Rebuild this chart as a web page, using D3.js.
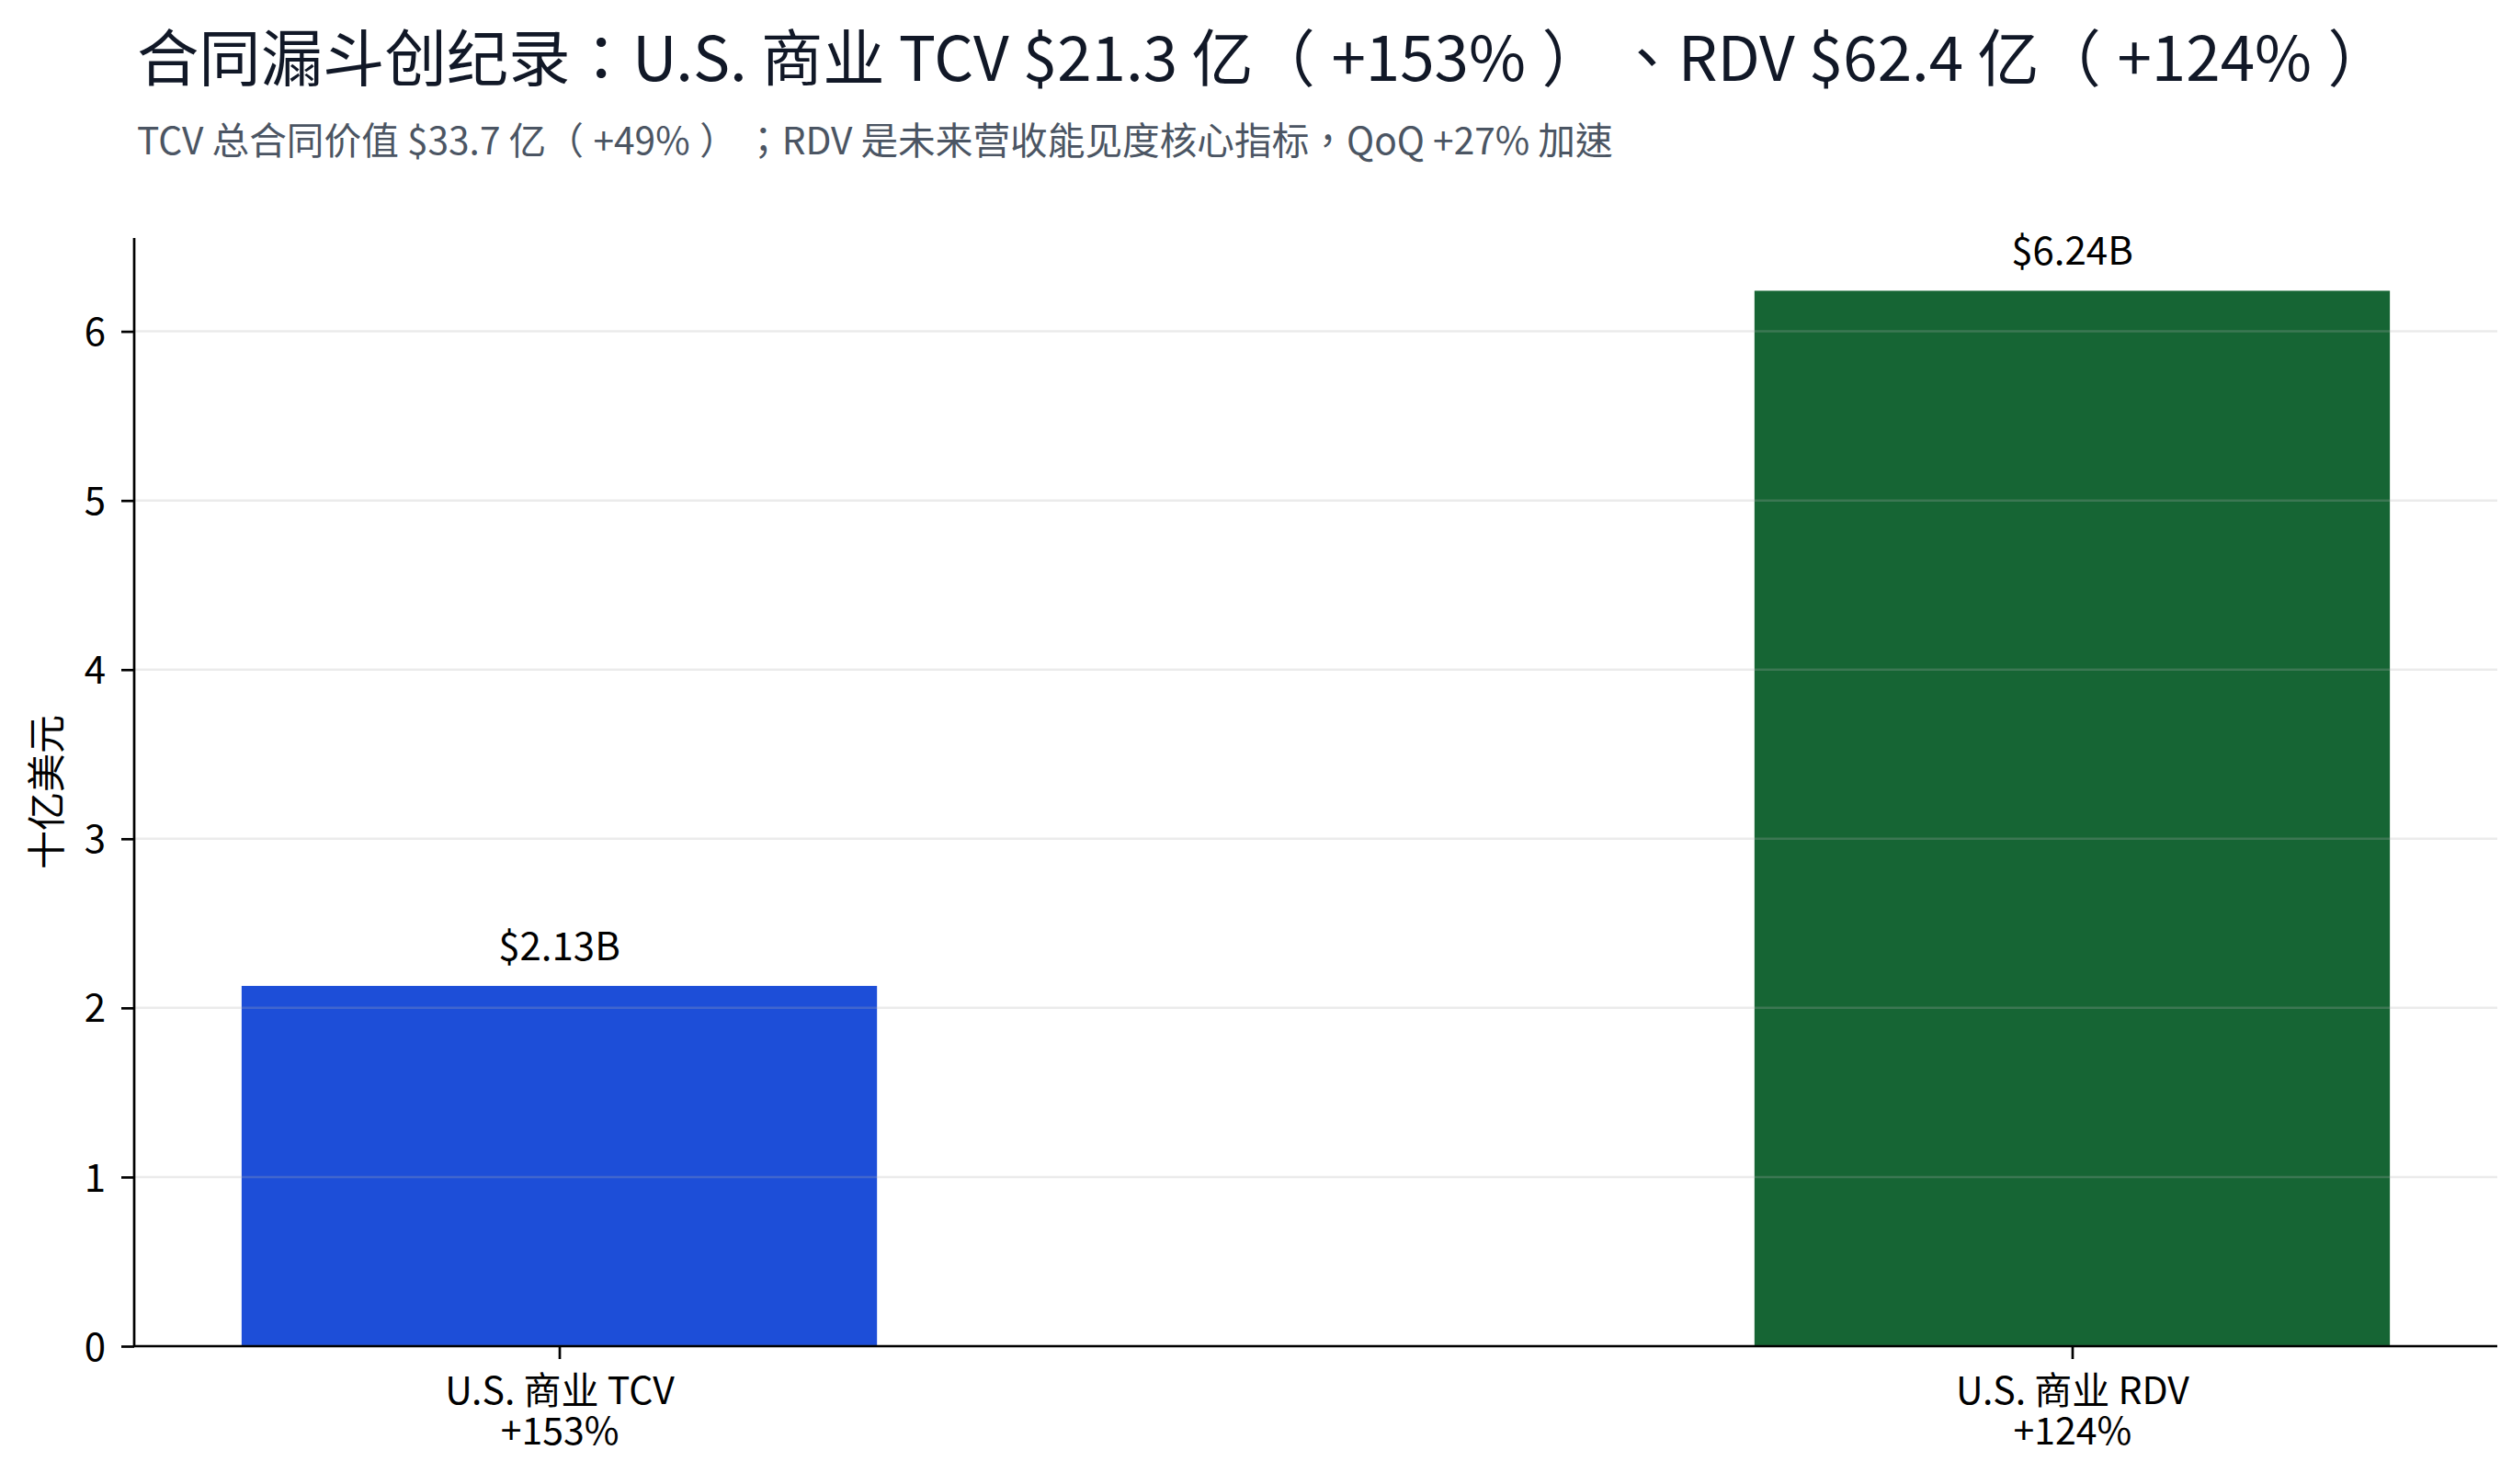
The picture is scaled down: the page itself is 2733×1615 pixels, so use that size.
<!DOCTYPE html>
<html>
<head>
<meta charset="utf-8">
<script src="https://cdn.jsdelivr.net/npm/d3@7"></script>
<style>
  body { margin: 0; background: #fff; }
  svg text { font-family: "Noto Sans CJK TC", "Noto Sans CJK SC", "Noto Sans", sans-serif; }
</style>
</head>
<body>
<div id="chart"></div>
<script>
// chart data
const categories = ['U.S. 商业 TCV', 'U.S. 商业 RDV'];
const growthLabels = ['+153%', '+124%'];
const values = [2.13, 6.24];
const valueLabels = ['$2.13B', '$6.24B'];
const colors = ['#1d4ed8', '#166534'];
const yTicks = [0, 1, 2, 3, 4, 5, 6];

const titleText = '合同漏斗创纪录：U.S. 商业 TCV $21.3 亿（+153%）、RDV $62.4 亿（+124%）';
const subtitleText = 'TCV 总合同价值 $33.7 亿（+49%）；RDV 是未来营收能见度核心指标，QoQ +27% 加速';
const yLabel = '十亿美元';

const width = 2733;
const height = 1615;
const margin = { top: 259, right: 16, bottom: 150, left: 146 };
const innerW = width - margin.left - margin.right;
const innerH = height - margin.top - margin.bottom;

const svg = d3.select('#chart')
    .append('svg')
    .attr('width', width)
    .attr('height', height);

// loosen the spacing round full-width brackets, the way the source font sets them
function writeText(sel, str) {
    let carry = 0;
    str.split(/([（）])/).forEach(p => {
        if (!p) return;
        let dx = carry;
        carry = 0;
        if (p === '（') carry = 0.26;
        if (p === '）') { dx += 0.26; carry = 0.7; }
        sel.append('tspan').attr('dx', dx + 'em').text(p);
    });
}

// scale a line's font so it spans the same width as in the source
function fitWidth(sel, size, target) {
    sel.style('font-size', size + 'px');
    const w = sel.node().getBBox().width;
    if (w > 0) sel.style('font-size', (size * target / w) + 'px');
}

const title = svg.append('text')
    .attr('x', 149)
    .attr('y', 88)
    .attr('fill', '#111827');
writeText(title, titleText);
fitWidth(title, 68, 2451);

const subtitle = svg.append('text')
    .attr('x', 149)
    .attr('y', 168)
    .attr('fill', '#4b5563');
writeText(subtitle, subtitleText);
fitWidth(subtitle, 37, 1606);

const g = svg.append('g')
    .attr('transform', `translate(${margin.left},${margin.top})`);

// bars are 0.42 wide, matplotlib-style 5% margins on x
const barW = 0.42;
const xPad = 0.05 * (categories.length - 1 + barW);
const x = d3.scaleLinear()
    .domain([-barW / 2 - xPad, categories.length - 1 + barW / 2 + xPad])
    .range([0, innerW]);

const y = d3.scaleLinear()
    .domain([0, d3.max(values) * 1.05])
    .range([innerH, 0]);

const bw = x(barW) - x(0);

g.selectAll('.bar')
    .data(values)
    .enter()
    .append('rect')
    .attr('class', 'bar')
    .attr('x', (d, i) => x(i) - bw / 2)
    .attr('y', d => y(d))
    .attr('width', bw)
    .attr('height', d => y(0) - y(d))
    .attr('fill', (d, i) => colors[i]);

// grid sits above the bars, semi-transparent
g.selectAll('.grid')
    .data(yTicks)
    .enter()
    .append('line')
    .attr('class', 'grid')
    .attr('x1', 0)
    .attr('x2', innerW)
    .attr('y1', d => y(d))
    .attr('y2', d => y(d))
    .attr('stroke', '#b0b0b0')
    .attr('stroke-opacity', 0.25)
    .attr('stroke-width', 2.5);

g.selectAll('.value-label')
    .data(values)
    .enter()
    .append('text')
    .attr('class', 'value-label')
    .attr('x', (d, i) => x(i))
    .attr('y', d => y(d) - 28)
    .attr('text-anchor', 'middle')
    .attr('fill', '#000')
    .style('font-size', '42px')
    .text((d, i) => valueLabels[i]);

const yAxis = g.append('g')
    .call(d3.axisLeft(y).tickValues(yTicks).tickSize(14).tickPadding(17).tickFormat(d3.format('d')));

const xAxis = g.append('g')
    .attr('transform', `translate(0,${innerH})`)
    .call(d3.axisBottom(x).tickValues(d3.range(categories.length)).tickSize(14).tickFormat(() => ''));

[yAxis, xAxis].forEach(ax => {
    ax.select('.domain').attr('stroke', '#000').attr('stroke-width', 2.7);
    ax.selectAll('.tick line').attr('stroke', '#000').attr('stroke-width', 2.7);
});
// keep the domain path without outer ticks
yAxis.select('.domain').attr('d', `M0,${innerH}V0`);
xAxis.select('.domain').attr('d', `M0,0H${innerW}`);

yAxis.selectAll('.tick text')
    .attr('fill', '#000')
    .style('font-size', '42px')
    .attr('dy', '0.36em');

xAxis.selectAll('.tick')
    .each(function (d, i) {
        const t = d3.select(this).append('text')
            .attr('fill', '#000')
            .attr('text-anchor', 'middle')
            .style('font-size', '41px');
        t.append('tspan').attr('x', 0).attr('y', 63).text(categories[i]);
        t.append('tspan').attr('x', 0).attr('y', 107).text(growthLabels[i]);
    });

svg.append('text')
    .attr('transform', `translate(66,${margin.top + innerH / 2}) rotate(-90)`)
    .attr('text-anchor', 'middle')
    .attr('fill', '#000')
    .style('font-size', '42px')
    .text(yLabel);
</script>
</body>
</html>
